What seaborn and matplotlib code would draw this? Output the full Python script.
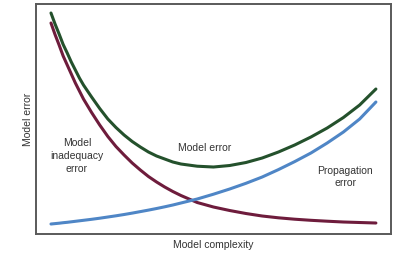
import pandas as pd
import matplotlib
matplotlib.use('Agg')
import matplotlib.pyplot as plt
import seaborn as sns

# model complexity (arbitrary units)
complexity = [0, 0.125, 0.25, 0.375, 0.5, 0.625, 0.75, 0.875, 1, 1.25, 1.5, 1.75, 2, 2.25, 2.5,
              2.75, 3, 3.25, 3.5, 3.75, 4, 4.5, 5, 5.5, 6, 6.5, 7, 7.5, 8, 8.5, 9, 9.5, 10]
# error curves (arbitrary units)
inadequacy_error = [211, 199.5, 189, 178, 169, 160, 151, 143, 135, 121.5, 109, 97.5, 87.5, 79, 71,
                    64, 57.5, 52, 47, 42.5, 38.5, 31.5, 27, 23.5, 20.5, 18, 16.2, 14.8, 13.7,
                    12.8, 12, 11.5, 11]
propagation_error = [10, 10.4, 10.8, 11.3, 11.7, 12.2, 12.7, 13.2, 13.7, 14.7, 15.8, 17, 18.2,
                     19.5, 20.9, 22.4, 23.9, 25.5, 27.2, 29, 31, 35, 39.8, 45, 50.7, 57, 64.4,
                     72.4, 81, 91, 102, 115, 132]
model_error = [221, 210, 200, 189.5, 181, 172, 164, 156, 149, 137, 125.5, 115, 106.5, 99, 92.5,
               87, 82, 78, 75, 72, 70, 67.8, 67, 68.5, 71.5, 76, 82, 89, 97, 106, 116.5, 129, 145]

series_names = ['Model inadequacy error', 'Propagation error', 'Model error']
colors = ['#6e1c3c', '#4f86c6', '#24512c']

n = len(complexity)
df = pd.DataFrame({
    'complexity': complexity * 3,
    'error': inadequacy_error + propagation_error + model_error,
    'curve': [series_names[0]] * n + [series_names[1]] * n + [series_names[2]] * n,
})

sns.set_style('white')
plt.rcParams['font.family'] = ['Liberation Sans', 'DejaVu Sans']

fig = plt.figure(figsize=(3.96, 2.59), dpi=100)
ax = fig.add_axes([0.091, 0.0965, 0.896, 0.888])

sns.lineplot(data=df, x='complexity', y='error', hue='curve', hue_order=series_names,
             palette=colors, linewidth=2.2, legend=False, ax=ax)

ax.set_xlim(-0.46, 10.46)
ax.set_ylim(0, 230)
ax.set_xticks([])
ax.set_yticks([])
for s in ax.spines.values():
    s.set_color('#5a5a5a')
    s.set_linewidth(1.4)

ax.set_xlabel('Model complexity', fontsize=7.5, color='#333333', labelpad=4)
ax.set_ylabel('Model error', fontsize=7.5, color='#333333', labelpad=2)

# curve labels
ax.text(0.8, 78, 'Model\ninadequacy\nerror', fontsize=7.5, color='#333333',
        ha='center', va='center', linespacing=1.35)
ax.text(4.74, 86, 'Model error', fontsize=7.5, color='#333333', ha='center', va='center')
ax.text(9.05, 57, 'Propagation\nerror', fontsize=7.5, color='#333333',
        ha='center', va='center', linespacing=1.35)

fig.savefig('out.png', dpi=100)
